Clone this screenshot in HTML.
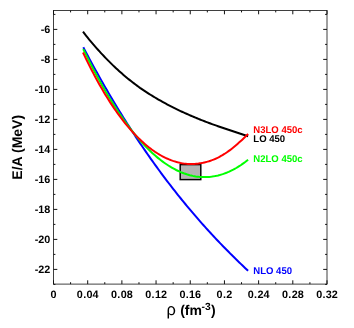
<!DOCTYPE html>
<html><head><meta charset="utf-8"><title>E/A vs density</title>
<style>
html,body{margin:0;padding:0;background:#fff;}
body{width:354px;height:328px;overflow:hidden;font-family:"Liberation Sans",sans-serif;}
svg{display:block;}
text{font-family:"Liberation Sans",sans-serif;font-weight:bold;text-rendering:geometricPrecision;}
svg{will-change:transform;}
.tl text{font-size:10.8px;fill:#000;}

.lg text{font-size:9.8px;}
</style></head><body>
<svg width="354" height="328" viewBox="0 0 354 328">
<rect width="354" height="328" fill="#fff"/>
<g fill="none" stroke-width="2" stroke-linecap="butt" stroke-linejoin="round">
<path d="M83.00,31.63 L84.50,33.59 L86.00,35.52 L87.50,37.41 L89.00,39.27 L90.50,41.10 L92.00,42.90 L93.50,44.67 L95.00,46.41 L96.50,48.11 L98.00,49.79 L99.50,51.44 L101.00,53.06 L102.50,54.65 L104.00,56.25 L105.50,57.83 L107.00,59.38 L108.50,60.91 L110.00,62.42 L111.50,63.90 L113.00,65.35 L114.50,66.78 L116.00,68.19 L117.50,69.58 L119.00,70.94 L120.50,72.28 L122.00,73.60 L123.50,74.89 L125.00,76.16 L126.50,77.42 L128.00,78.65 L129.50,79.86 L131.00,81.05 L132.50,82.22 L134.00,83.38 L135.50,84.51 L137.00,85.63 L138.50,86.73 L140.00,87.82 L141.50,88.85 L143.00,89.88 L144.50,90.88 L146.00,91.87 L147.50,92.85 L149.00,93.81 L150.50,94.76 L152.00,95.69 L153.50,96.60 L155.00,97.51 L156.50,98.40 L158.00,99.27 L159.50,100.14 L161.00,100.99 L162.50,101.83 L164.00,102.66 L165.50,103.47 L167.00,104.27 L168.50,105.07 L170.00,105.85 L171.50,106.62 L173.00,107.38 L174.50,108.13 L176.00,108.87 L177.50,109.60 L179.00,110.32 L180.50,111.03 L182.00,111.73 L183.50,112.42 L185.00,113.10 L186.50,113.78 L188.00,114.44 L189.50,115.10 L191.00,115.75 L192.50,116.39 L194.00,117.03 L195.50,117.65 L197.00,118.27 L198.50,118.88 L200.00,119.49 L201.50,120.08 L203.00,120.67 L204.50,121.25 L206.00,121.83 L207.50,122.40 L209.00,122.96 L210.50,123.52 L212.00,124.07 L213.50,124.61 L215.00,125.15 L216.50,125.68 L218.00,126.20 L219.50,126.72 L221.00,127.23 L222.50,127.74 L224.00,128.24 L225.50,128.74 L227.00,129.23 L228.50,129.73 L230.00,130.26 L231.50,130.78 L233.00,131.30 L234.50,131.81 L236.00,132.32 L237.50,132.82 L239.00,133.31 L240.50,133.80 L242.00,134.28 L243.50,134.76 L245.00,135.23 L246.50,135.70 L248.10,136.19" stroke="#000"/>
<rect x="180.2" y="164.6" width="20.6" height="15" fill="#b4b4b4" stroke="#000" stroke-width="1.45" stroke-linejoin="miter"/>
<path d="M83.30,47.28 L84.80,50.14 L86.30,52.98 L87.80,55.80 L89.30,58.60 L90.80,61.39 L92.30,64.15 L93.80,66.90 L95.30,69.63 L96.80,72.34 L98.30,75.04 L99.80,77.71 L101.30,80.37 L102.80,83.01 L104.30,85.63 L105.80,88.24 L107.30,90.83 L108.80,93.40 L110.30,95.95 L111.80,98.49 L113.30,101.01 L114.80,103.51 L116.30,106.00 L117.80,108.47 L119.30,110.92 L120.80,113.36 L122.30,115.78 L123.80,118.18 L125.30,120.57 L126.80,122.94 L128.30,125.30 L129.80,127.64 L131.30,129.96 L132.80,132.27 L134.30,134.57 L135.80,136.85 L137.30,139.11 L138.80,141.36 L140.30,143.59 L141.80,145.80 L143.30,148.01 L144.80,150.19 L146.30,152.37 L147.80,154.53 L149.30,156.67 L150.80,158.80 L152.30,160.91 L153.80,163.01 L155.30,165.10 L156.80,167.17 L158.30,169.23 L159.80,171.28 L161.30,173.31 L162.80,175.32 L164.30,177.33 L165.80,179.32 L167.30,181.29 L168.80,183.26 L170.30,185.21 L171.80,187.14 L173.30,189.07 L174.80,190.98 L176.30,192.88 L177.80,194.77 L179.30,196.64 L180.80,198.50 L182.30,200.35 L183.80,202.19 L185.30,204.01 L186.80,205.82 L188.30,207.62 L189.80,209.41 L191.30,211.19 L192.80,212.95 L194.30,214.71 L195.80,216.45 L197.30,218.18 L198.80,219.90 L200.30,221.61 L201.80,223.30 L203.30,224.99 L204.80,226.67 L206.30,228.33 L207.80,229.98 L209.30,231.63 L210.80,233.26 L212.30,234.88 L213.80,236.49 L215.30,238.10 L216.80,239.69 L218.30,241.27 L219.80,242.84 L221.30,244.41 L222.80,245.96 L224.30,247.50 L225.80,249.03 L227.30,250.56 L228.80,252.07 L230.30,253.58 L231.80,255.08 L233.30,256.56 L234.80,258.04 L236.30,259.51 L237.80,260.97 L239.30,262.43 L240.80,263.87 L242.30,265.31 L243.80,266.73 L245.30,268.15 L248.10,270.78" stroke="#00f"/>
<path d="M83.20,48.98 L84.70,52.09 L86.20,55.15 L87.70,58.18 L89.20,61.18 L90.70,64.13 L92.20,67.05 L93.70,69.93 L95.20,72.78 L96.70,75.59 L98.20,78.36 L99.70,81.09 L101.20,83.79 L102.70,86.44 L104.20,89.07 L105.70,91.65 L107.20,94.19 L108.70,96.70 L110.20,99.17 L111.70,101.61 L113.20,104.00 L114.70,106.36 L116.20,108.68 L117.70,110.96 L119.20,113.21 L120.70,115.41 L122.20,117.58 L123.70,119.71 L125.20,121.81 L126.70,123.86 L128.20,125.88 L129.70,127.85 L131.20,129.79 L132.70,131.70 L134.20,133.56 L135.70,135.38 L137.20,137.17 L138.70,138.92 L140.20,140.63 L141.70,142.30 L143.20,143.93 L144.70,145.53 L146.20,147.08 L147.70,148.60 L149.20,150.08 L150.70,151.52 L152.20,152.92 L153.70,154.28 L155.20,155.60 L156.70,156.88 L158.20,158.13 L159.70,159.33 L161.20,160.50 L162.70,161.63 L164.20,162.72 L165.70,163.77 L167.20,164.78 L168.70,165.75 L170.20,166.68 L171.70,167.57 L173.20,168.42 L174.70,169.23 L176.20,170.01 L177.70,170.74 L179.20,171.43 L180.70,172.09 L182.20,172.70 L183.70,173.28 L185.20,173.81 L186.70,174.31 L188.20,174.76 L189.70,175.18 L191.20,175.55 L192.70,175.89 L194.20,176.18 L195.70,176.44 L197.20,176.65 L198.70,176.83 L200.20,176.96 L201.70,177.06 L203.20,177.11 L204.70,177.12 L206.20,177.10 L207.70,177.03 L209.20,176.92 L210.70,176.77 L212.20,176.58 L213.70,176.35 L215.20,176.08 L216.70,175.77 L218.20,175.42 L219.70,175.03 L221.20,174.59 L222.70,174.12 L224.20,173.60 L225.70,173.05 L227.20,172.45 L228.70,171.81 L230.20,171.13 L231.70,170.41 L233.20,169.65 L234.70,168.84 L236.20,168.00 L237.70,167.11 L239.20,166.18 L240.70,165.22 L242.20,164.20 L243.70,163.15 L245.20,162.06 L248.10,159.83" stroke="#0f0"/>
<path d="M83.00,52.48 L84.50,55.65 L86.00,58.78 L87.50,61.85 L89.00,64.87 L90.50,67.85 L92.00,70.77 L93.50,73.65 L95.00,76.47 L96.50,79.25 L98.00,81.98 L99.50,84.66 L101.00,87.29 L102.50,89.87 L104.00,92.41 L105.50,94.90 L107.00,97.34 L108.50,99.74 L110.00,102.09 L111.50,104.39 L113.00,106.64 L114.50,108.85 L116.00,111.02 L117.50,113.14 L119.00,115.21 L120.50,117.24 L122.00,119.22 L123.50,121.16 L125.00,123.06 L126.50,124.91 L128.00,126.71 L129.50,128.47 L131.00,130.19 L132.50,131.86 L134.00,133.49 L135.50,135.08 L137.00,136.62 L138.50,138.12 L140.00,139.58 L141.50,140.99 L143.00,142.36 L144.50,143.69 L146.00,144.98 L147.50,146.22 L149.00,147.42 L150.50,148.58 L152.00,149.69 L153.50,150.76 L155.00,151.80 L156.50,152.78 L158.00,153.73 L159.50,154.64 L161.00,155.50 L162.50,156.32 L164.00,157.10 L165.50,157.84 L167.00,158.53 L168.50,159.18 L170.00,159.80 L171.50,160.37 L173.00,160.90 L174.50,161.38 L176.00,161.83 L177.50,162.23 L179.00,162.59 L180.50,162.91 L182.00,163.19 L183.50,163.43 L185.00,163.62 L186.50,163.78 L188.00,163.89 L189.50,163.96 L191.00,163.98 L192.50,163.97 L194.00,163.91 L195.50,163.81 L197.00,163.67 L198.50,163.49 L200.00,163.26 L201.50,163.03 L203.00,162.75 L204.50,162.42 L206.00,162.06 L207.50,161.65 L209.00,161.20 L210.50,160.71 L212.00,160.17 L213.50,159.59 L215.00,158.97 L216.50,158.30 L218.00,157.59 L219.50,156.82 L221.00,155.99 L222.50,155.12 L224.00,154.20 L225.50,153.24 L227.00,152.23 L228.50,151.18 L230.00,150.08 L231.50,148.93 L233.00,147.74 L234.50,146.51 L236.00,145.23 L237.50,143.90 L239.00,142.60 L240.50,141.28 L242.00,139.92 L243.50,138.51 L245.00,137.05 L246.50,135.55 L248.10,133.89" stroke="#f00"/>
</g>
<g fill="none" stroke="#2c2c2c" stroke-width="0.9">
<rect x="53.5" y="10.5" width="273.50" height="273.60"/>
<path d="M53.50,284.1 v-3.8 M53.50,10.5 v3.8 M70.59,284.1 v-1.9 M70.59,10.5 v1.9 M87.69,284.1 v-3.8 M87.69,10.5 v3.8 M104.78,284.1 v-1.9 M104.78,10.5 v1.9 M121.88,284.1 v-3.8 M121.88,10.5 v3.8 M138.97,284.1 v-1.9 M138.97,10.5 v1.9 M156.06,284.1 v-3.8 M156.06,10.5 v3.8 M173.16,284.1 v-1.9 M173.16,10.5 v1.9 M190.25,284.1 v-3.8 M190.25,10.5 v3.8 M207.34,284.1 v-1.9 M207.34,10.5 v1.9 M224.44,284.1 v-3.8 M224.44,10.5 v3.8 M241.53,284.1 v-1.9 M241.53,10.5 v1.9 M258.62,284.1 v-3.8 M258.62,10.5 v3.8 M275.72,284.1 v-1.9 M275.72,10.5 v1.9 M292.81,284.1 v-3.8 M292.81,10.5 v3.8 M309.91,284.1 v-1.9 M309.91,10.5 v1.9 M327.00,284.1 v-3.8 M327.00,10.5 v3.8 M53.5,284.40 h1.9 M327.0,284.40 h-1.9 M53.5,269.40 h3.8 M327.0,269.40 h-3.8 M53.5,254.40 h1.9 M327.0,254.40 h-1.9 M53.5,239.40 h3.8 M327.0,239.40 h-3.8 M53.5,224.40 h1.9 M327.0,224.40 h-1.9 M53.5,209.40 h3.8 M327.0,209.40 h-3.8 M53.5,194.40 h1.9 M327.0,194.40 h-1.9 M53.5,179.40 h3.8 M327.0,179.40 h-3.8 M53.5,164.40 h1.9 M327.0,164.40 h-1.9 M53.5,149.40 h3.8 M327.0,149.40 h-3.8 M53.5,134.40 h1.9 M327.0,134.40 h-1.9 M53.5,119.40 h3.8 M327.0,119.40 h-3.8 M53.5,104.40 h1.9 M327.0,104.40 h-1.9 M53.5,89.40 h3.8 M327.0,89.40 h-3.8 M53.5,74.40 h1.9 M327.0,74.40 h-1.9 M53.5,59.40 h3.8 M327.0,59.40 h-3.8 M53.5,44.40 h1.9 M327.0,44.40 h-1.9 M53.5,29.40 h3.8 M327.0,29.40 h-3.8 M53.5,14.40 h1.9 M327.0,14.40 h-1.9" stroke="#111" stroke-width="1"/>
</g>
<g class="tl"><text x="50.35" y="273.10" text-anchor="end">-22</text><text x="50.35" y="243.10" text-anchor="end">-20</text><text x="50.35" y="213.10" text-anchor="end">-18</text><text x="50.35" y="183.10" text-anchor="end">-16</text><text x="50.35" y="153.10" text-anchor="end">-14</text><text x="50.35" y="123.10" text-anchor="end">-12</text><text x="50.35" y="93.10" text-anchor="end">-10</text><text x="50.35" y="63.10" text-anchor="end">-8</text><text x="50.35" y="33.10" text-anchor="end">-6</text><g class="xl"><text x="53.50" y="297.8" text-anchor="middle">0</text><text x="87.69" y="297.8" text-anchor="middle">0<tspan dx="0.3">.</tspan><tspan dx="0.35">04</tspan></text><text x="121.88" y="297.8" text-anchor="middle">0<tspan dx="0.3">.</tspan><tspan dx="0.35">08</tspan></text><text x="156.06" y="297.8" text-anchor="middle">0<tspan dx="0.3">.</tspan><tspan dx="0.35">12</tspan></text><text x="190.25" y="297.8" text-anchor="middle">0<tspan dx="0.3">.</tspan><tspan dx="0.35">16</tspan></text><text x="224.44" y="297.8" text-anchor="middle">0<tspan dx="0.3">.</tspan><tspan dx="0.35">2</tspan></text><text x="258.62" y="297.8" text-anchor="middle">0<tspan dx="0.3">.</tspan><tspan dx="0.35">24</tspan></text><text x="292.81" y="297.8" text-anchor="middle">0<tspan dx="0.3">.</tspan><tspan dx="0.35">28</tspan></text><text x="327.00" y="297.8" text-anchor="middle">0<tspan dx="0.3">.</tspan><tspan dx="0.35">32</tspan></text></g></g>
<g class="lg">
<text transform="translate(253.3,132.9) scale(0.975,1)" fill="#f00">N3LO 450c</text>
<text transform="translate(253.3,141.8) scale(0.975,1)" fill="#000">LO 450</text>
<text transform="translate(253.3,162.3) scale(0.975,1)" fill="#0f0">N2LO 450c</text>
<text transform="translate(253.3,273.8) scale(0.975,1)" fill="#00f">NLO 450</text>
</g>
<text x="166.6" y="315.3" font-size="16.5" style="font-weight:normal">ρ</text>
<text x="180.2" y="315.3" font-size="14">(fm</text>
<text x="201.5" y="310.2" font-size="10.3">-3</text>
<text x="211" y="315.3" font-size="14">)</text>
<text transform="translate(21.65,147.3) rotate(-90)" text-anchor="middle" font-size="14">E/A (MeV)</text>
</svg>
</body></html>
